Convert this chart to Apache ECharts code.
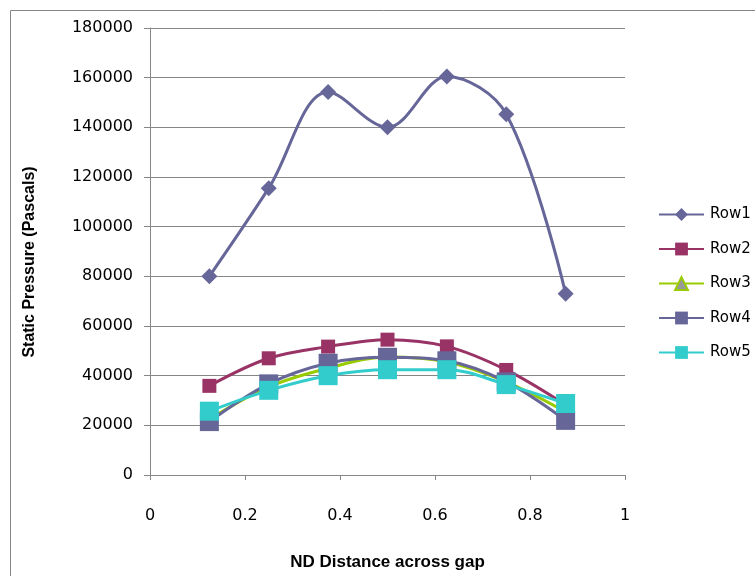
<!DOCTYPE html>
<html>
<head>
<meta charset="utf-8">
<script src="https://cdn.jsdelivr.net/npm/echarts@6/dist/echarts.min.js"></script>
<style>
html,body{margin:0;padding:0;background:#fff;}
#c{width:755px;height:576px;}
</style>
</head>
<body>
<div id="c"></div>
<script>
var xs = [0.125, 0.25, 0.375, 0.5, 0.625, 0.75, 0.875];
var row1 = [80000, 115500, 154200, 140000, 160500, 145300, 73000];
var row2 = [35900, 47000, 51700, 54500, 51800, 42300, 28200];
var row3 = [22500, 35500, 43000, 47500, 45500, 37500, 25400];
var row4 = [21500, 36700, 45000, 47400, 46000, 37500, 22000];
var row5 = [25700, 34100, 40000, 42400, 42400, 36400, 28800];
var seriesNames = ['Row1', 'Row2', 'Row3', 'Row4', 'Row5'];
var xTitle = 'ND Distance across gap';
var yTitle = 'Static Pressure (Pascals)';

function pairs(ys) { return xs.map(function (x, i) { return [x, ys[i]]; }); }

var styles = [
  {color: '#666699', symbol: 'diamond', size: 16, border: '#666699', fill: '#666699'},
  {color: '#993366', symbol: 'rect', size: 14, border: '#993366', fill: '#993366'},
  {color: '#99CC00', symbol: 'triangle', size: 14, border: '#99CC00', fill: '#999999'},
  {color: '#666699', symbol: 'rect', size: 19, border: '#666699', fill: '#666699'},
  {color: '#33CCCC', symbol: 'rect', size: 19, border: '#33CCCC', fill: '#33CCCC'}
];
var rows = [row1, row2, row3, row4, row5];

var series = rows.map(function (r, i) {
  var s = styles[i];
  return {
    name: seriesNames[i],
    type: 'line',
    smooth: 0.35,
    data: pairs(r),
    symbol: s.symbol,
    symbolSize: s.size,
    lineStyle: {color: s.color, width: 3},
    itemStyle: {color: s.fill, borderColor: s.border, borderWidth: i === 2 ? 1.5 : 0},
    emphasis: {disabled: true},
    z: 2 + i
  };
});

var chart = echarts.init(document.getElementById('c'), null, {renderer: 'canvas'});
chart.setOption({
  animation: false,
  backgroundColor: '#ffffff',
  graphic: [{
    type: 'rect',
    shape: {x: 10.5, y: 10.5, width: 800, height: 700},
    style: {fill: 'none', stroke: '#868686', lineWidth: 1},
    silent: true
  }, {
    type: 'text',
    x: 30, y: 262,
    rotation: Math.PI / 2,
    style: {
      text: yTitle,
      fontFamily: 'Liberation Sans', fontWeight: 'bold', fontSize: 16, fill: '#000',
      align: 'center', verticalAlign: 'middle'
    },
    silent: true
  }],
  grid: {left: 150, right: 130, top: 28, bottom: 92},
  legend: {
    orient: 'vertical',
    left: 658,
    top: 207,
    padding: 0,
    itemWidth: 45,
    itemHeight: 16,
    itemGap: 19.5,
    textStyle: {fontFamily: 'DejaVu Sans', fontSize: 15, color: '#000', padding: [0, 0, 0, 1]},
    data: seriesNames
  },
  xAxis: {
    type: 'value',
    min: 0, max: 1, interval: 0.2,
    name: xTitle,
    nameLocation: 'middle',
    nameGap: 79,
    nameTextStyle: {fontFamily: 'Liberation Sans', fontWeight: 'bold', fontSize: 17, color: '#000'},
    axisLine: {show: true, lineStyle: {color: '#868686', width: 1}},
    axisTick: {show: true, length: 5, lineStyle: {color: '#868686'}},
    axisLabel: {fontFamily: 'DejaVu Sans', fontSize: 16, color: '#000', margin: 33},
    splitLine: {show: false}
  },
  yAxis: {
    type: 'value',
    min: 0, max: 180000, interval: 20000,
    axisLine: {show: true, lineStyle: {color: '#868686', width: 1}},
    axisTick: {show: true, length: 6, lineStyle: {color: '#868686'}},
    axisLabel: {fontFamily: 'DejaVu Sans', fontSize: 16, color: '#000', margin: 17,
      formatter: function (v) { return String(v); }},
    splitLine: {show: true, lineStyle: {color: '#868686', width: 1}}
  },
  series: series
});
</script>
</body>
</html>
